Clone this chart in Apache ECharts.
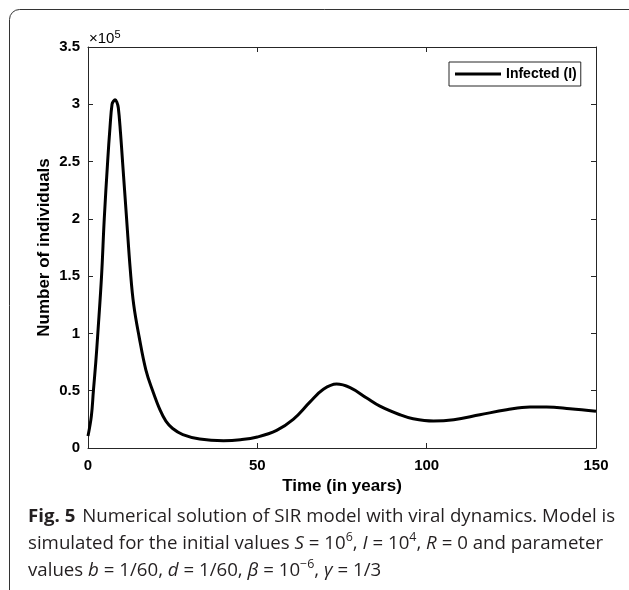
<!DOCTYPE html>
<html>
<head>
<meta charset="utf-8">
<script src="https://cdn.jsdelivr.net/npm/echarts@6/dist/echarts.min.js"></script>
<style>
html,body{margin:0;padding:0;background:#fff;}
#chart{width:629px;height:590px;}
</style>
</head>
<body>
<div id="chart"></div>
<script>
// ---- data (time in years, infected in units of 1e5) ----
var timeYears = [0, 1, 1.6, 2.3, 2.9, 4.0, 4.8, 5.8, 6.5, 7.1, 7.6, 8.0, 8.5, 8.95, 9.6, 10.2, 11.4, 12.5, 13.5, 15.1, 17.1, 19.1, 21.3, 23, 25, 28, 33, 40, 45, 50, 55.7, 60.6, 65.5, 69.5, 73.4, 77.4, 82.3, 86.2, 92.1, 96, 102, 108, 115.7, 123.6, 130.5, 135.4, 142.3, 150];
var infected = [0.105, 0.28, 0.5, 0.75, 1.0, 1.5, 2.0, 2.5, 2.8, 3.0, 3.03, 3.04, 3.02, 2.97, 2.75, 2.5, 2.0, 1.55, 1.25, 0.97, 0.68, 0.5, 0.33, 0.235, 0.17, 0.117, 0.078, 0.064, 0.072, 0.096, 0.154, 0.25, 0.40, 0.512, 0.558, 0.527, 0.436, 0.365, 0.29, 0.255, 0.235, 0.247, 0.29, 0.334, 0.358, 0.358, 0.343, 0.32];
var xTicks = {min: 0, max: 150, interval: 50};
var yTicks = {min: 0, max: 3.5, interval: 0.5};
var seriesName = 'Infected (I)';
var xTitle = 'Time (in years)';
var yTitle = 'Number of individuals';
var captionLines = [
  '{b|Fig. 5}  {n|Numerical solution of SIR model with viral dynamics. Model is}',
  '{n|simulated for the initial values }{i|S}{n| = 10}{s|6}{n|, }{i|I}{n| = 10}{s|4}{n|, }{i|R}{n| = 0 and parameter}',
  '{n|values }{i|b}{n| = 1/60, }{i|d}{n| = 1/60, }{i|β}{n| = 10}{s|−6}{n|, }{i|γ}{n| = 1/3}'
];

var points = timeYears.map(function (t, k) { return [t, infected[k]]; });

var AX = '#262626';
var FONT = '"Liberation Sans", Arial, sans-serif';
var CAP = '"Open Sans", "Noto Sans", sans-serif';

// measure caption line 1 to fit width
var cv = document.createElement('canvas').getContext('2d');
function w(font, s){ cv.font = font; return cv.measureText(s).width; }
var line1W = w('bold 18px ' + CAP, 'Fig. 5') + w('18px ' + CAP, '  Numerical solution of SIR model with viral dynamics. Model is');
var capScale = 590 / line1W;

var rich = {
  b: {fontFamily: CAP, fontSize: 18, fontWeight: 'bold', lineHeight: 24, fill: '#231f20'},
  n: {fontFamily: CAP, fontSize: 18, lineHeight: 24, fill: '#231f20'},
  i: {fontFamily: CAP, fontSize: 18, fontStyle: 'italic', lineHeight: 24, fill: '#231f20'},
  s: {fontFamily: CAP, fontSize: 12, lineHeight: 12, verticalAlign: 'top', fill: '#231f20'}
};

var chart = echarts.init(document.getElementById('chart'), null, {renderer: 'canvas'});
function axisCommon() {
  return {
    axisLine: {show: true, onZero: false, lineStyle: {color: AX, width: 1}},
    axisTick: {show: true, inside: true, length: 5, lineStyle: {color: AX}},
    splitLine: {show: false}
  };
}
chart.setOption({
  animation: false,
  backgroundColor: '#fff',
  grid: {left: 88, right: 33, top: 47, bottom: 142},
  legend: {
    data: [{name: seriesName, icon: 'rect'}],
    left: 449, top: 62,
    orient: 'horizontal',
    padding: [4, 4, 4, 6],
    itemWidth: 46, itemHeight: 3, itemGap: 0,
    borderColor: AX, borderWidth: 1, backgroundColor: '#fff',
    itemStyle: {color: '#000'},
    textStyle: {fontFamily: FONT, fontSize: 14, fontWeight: 'bold', color: '#000', lineHeight: 16}
  },
  xAxis: [
    Object.assign({
      type: 'value', position: 'bottom', min: xTicks.min, max: xTicks.max, interval: xTicks.interval,
      name: xTitle, nameLocation: 'middle', nameGap: 30, nameMoveOverlap: false,
      nameTextStyle: {fontFamily: FONT, fontSize: 17, fontWeight: 'bold', color: '#000'},
      axisLabel: {fontFamily: FONT, fontSize: 15, fontWeight: 'bold', color: '#000', margin: 10}
    }, axisCommon()),
    Object.assign({
      type: 'value', position: 'top', min: xTicks.min, max: xTicks.max, interval: xTicks.interval,
      axisLabel: {show: false}
    }, axisCommon())
  ],
  yAxis: [
    Object.assign({
      type: 'value', position: 'left', min: yTicks.min, max: yTicks.max, interval: yTicks.interval,
      name: yTitle, nameLocation: 'middle', nameGap: 35, nameRotate: 90, nameMoveOverlap: false,
      nameTextStyle: {fontFamily: FONT, fontSize: 17, fontWeight: 'bold', color: '#000'},
      axisLabel: {fontFamily: FONT, fontSize: 15, fontWeight: 'bold', color: '#000', margin: 8}
    }, axisCommon()),
    Object.assign({
      type: 'value', position: 'right', min: yTicks.min, max: yTicks.max, interval: yTicks.interval,
      axisLabel: {show: false}
    }, axisCommon())
  ],
  series: [{
    name: seriesName,
    type: 'line',
    data: points,
    showSymbol: false,
    symbol: 'none',
    smooth: 0.4,
    lineStyle: {color: '#000', width: 3},
    itemStyle: {color: '#000'},
    z: 3
  }],
  graphic: [
    {type: 'rect', shape: {x: 9.5, y: 9.5, width: 800, height: 800, r: 10}, style: {fill: 'none', stroke: '#333', lineWidth: 1}, silent: true},
    {type: 'text', x: 89, y: 39, style: {
      text: '{m|×10}{p|5}',
      rich: {
        m: {fontFamily: FONT, fontSize: 15, lineHeight: 20, fill: '#000'},
        p: {fontFamily: FONT, fontSize: 11, lineHeight: 11, verticalAlign: 'top', fill: '#000'}
      },
      verticalAlign: 'middle', align: 'left'
    }},
    {type: 'text', x: 28, y: 517, scaleX: capScale, style: {text: captionLines[0], rich: rich, verticalAlign: 'middle', align: 'left'}},
    {type: 'text', x: 28, y: 544, scaleX: capScale, style: {text: captionLines[1], rich: rich, verticalAlign: 'middle', align: 'left'}},
    {type: 'text', x: 28, y: 571, scaleX: capScale, style: {text: captionLines[2], rich: rich, verticalAlign: 'middle', align: 'left'}}
  ]
});
</script>
</body>
</html>
